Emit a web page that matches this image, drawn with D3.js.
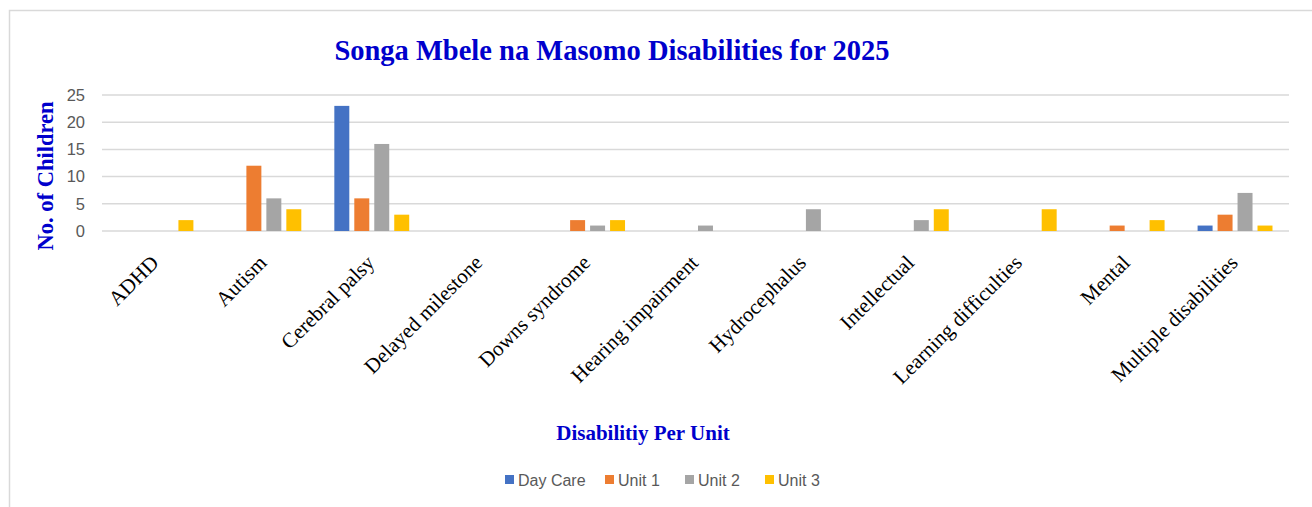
<!DOCTYPE html>
<html><head><meta charset="utf-8">
<script src="https://cdn.jsdelivr.net/npm/d3@7"></script>
<style>body{margin:0;background:#fff}svg{display:block}</style>
</head><body><svg id="c" width="1312" height="507"></svg>
<script>
const categories = ["ADHD","Autism","Cerebral palsy","Delayed milestone","Downs syndrome","Hearing impairment","Hydrocephalus","Intellectual","Learning difficulties","Mental","Multiple disabilities"];
const seriesNames = ["Day Care","Unit 1","Unit 2","Unit 3"];
const dayCare = [0,0,23,0,0,0,0,0,0,0,1];
const unit1   = [0,12,6,0,2,0,0,0,0,1,3];
const unit2   = [0,6,16,0,1,1,4,2,0,0,7];
const unit3   = [2,4,3,0,2,0,0,4,4,2,1];
const yTicks  = [0,5,10,15,20,25];
const colors  = ["#4472C4","#ED7D31","#A5A5A5","#FFC000"];
const title = "Songa Mbele na Masomo Disabilities for 2025";
const yTitle = "No. of Children";
const xTitle = "Disabilitiy Per Unit";

const seriesVals = [dayCare, unit1, unit2, unit3];
const svg = d3.select("#c");

// frame
svg.append("rect").attr("x",9.5).attr("y",10.5).attr("width",1310).attr("height",510)
  .attr("fill","none").attr("stroke","#D9D9D9").attr("stroke-width",1.5);

const x0 = d3.scaleBand().domain(categories).range([102,1289]);
const bw = x0.bandwidth();
const x1 = d3.scaleBand().domain(seriesNames).range([bw*0.153, bw*0.847]).paddingInner(0.25);
const y = d3.scaleLinear().domain([0,25]).range([231,95]);

// gridlines
svg.append("g").selectAll("line").data(yTicks).join("line")
  .attr("x1",102).attr("x2",1289).attr("y1",d=>y(d)).attr("y2",d=>y(d))
  .attr("stroke","#D9D9D9").attr("stroke-width",1.5);

// y axis labels
const yAxis = d3.axisLeft(y).tickValues(yTicks).tickSize(0).tickPadding(0);
const gy = svg.append("g").attr("transform","translate(85,0)").call(yAxis);
gy.select(".domain").remove();
gy.selectAll("text").attr("font-family","Liberation Sans, sans-serif").attr("font-size",16.5).attr("fill","#595959");

// bars
const data = [];
categories.forEach((c,i)=>seriesNames.forEach((s,j)=>data.push({c,s,v:seriesVals[j][i],j})));
svg.append("g").selectAll("rect").data(data.filter(d=>d.v>0)).join("rect")
  .attr("x",d=>x0(d.c)+x1(d.s)).attr("width",x1.bandwidth())
  .attr("y",d=>y(d.v)).attr("height",d=>y(0)-y(d.v))
  .attr("fill",d=>colors[d.j]);

// x axis labels
const xAxis = d3.axisBottom(x0).tickSize(0).tickPadding(0);
const gx = svg.append("g").attr("transform","translate(0,231)").call(xAxis);
gx.select(".domain").remove();
gx.selectAll("text")
  .attr("font-family","Liberation Serif, serif").attr("font-size",21).attr("fill","#000")
  .attr("text-anchor","end").attr("dy",0)
  .attr("transform","translate(4,33) rotate(-45)");

// titles
svg.append("text").attr("x",612).attr("y",60).attr("text-anchor","middle")
  .attr("font-family","Liberation Serif, serif").attr("font-weight","bold").attr("font-size",28.5)
  .attr("fill","#0000CC").text(title);
svg.append("text").attr("transform","translate(53,176) rotate(-90)").attr("text-anchor","middle")
  .attr("font-family","Liberation Serif, serif").attr("font-weight","bold").attr("font-size",22.5)
  .attr("fill","#0000CC").text(yTitle);
svg.append("text").attr("x",643).attr("y",440).attr("text-anchor","middle")
  .attr("font-family","Liberation Serif, serif").attr("font-weight","bold").attr("font-size",21)
  .attr("fill","#0000CC").text(xTitle);

// legend
const legStarts = [505,605,685,765];
const lg = svg.append("g").selectAll("g").data(seriesNames).join("g")
  .attr("transform",(d,i)=>`translate(${legStarts[i]},475)`);
lg.append("rect").attr("width",9).attr("height",9).attr("fill",(d,i)=>colors[i]);
lg.append("text").attr("x",13).attr("y",11).attr("font-family","Liberation Sans, sans-serif")
  .attr("font-size",16).attr("fill","#595959").text(d=>d);
</script></body></html>
